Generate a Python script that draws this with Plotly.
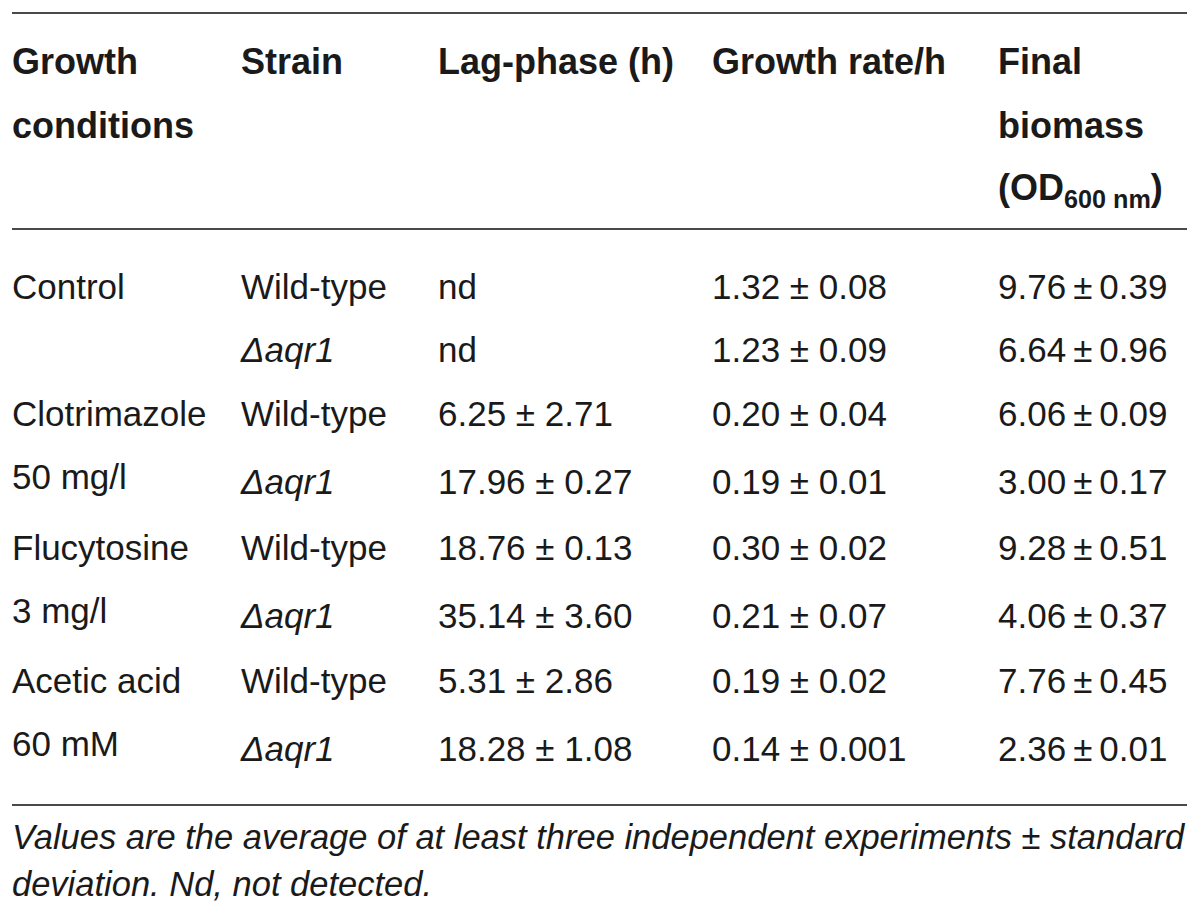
import plotly.graph_objects as go

# ---------------- data ----------------
headers = [
    ["Growth", "conditions"],
    ["Strain"],
    ["Lag-phase (h)"],
    ["Growth rate/h"],
    ["Final", "biomass", "(OD<sub>600 nm</sub>)"],
]
conditions = ["Control", "", "Clotrimazole", "50 mg/l", "Flucytosine", "3 mg/l", "Acetic acid", "60 mM"]
strains = ["Wild-type", "Δaqr1", "Wild-type", "Δaqr1", "Wild-type", "Δaqr1", "Wild-type", "Δaqr1"]
lag_mean = [None, None, 6.25, 17.96, 18.76, 35.14, 5.31, 18.28]
lag_sd = [None, None, 2.71, 0.27, 0.13, 3.60, 2.86, 1.08]
rate_mean = [1.32, 1.23, 0.20, 0.19, 0.30, 0.21, 0.19, 0.14]
rate_sd = [0.08, 0.09, 0.04, 0.01, 0.02, 0.07, 0.02, 0.001]
biomass_mean = [9.76, 6.64, 6.06, 3.00, 9.28, 4.06, 7.76, 2.36]
biomass_sd = [0.39, 0.96, 0.09, 0.17, 0.51, 0.37, 0.45, 0.01]
footnote = [
    "Values are the average of at least three independent experiments ± standard",
    "deviation. Nd, not detected.",
]

# ---------------- layout constants ----------------
W, H = 1200, 919
PAGE = 8  # default page margin of the html body
col_x = [12, 241, 438, 712, 998]
header_y = [65, 129, 191]
row_y = [290, 353, 417, 485, 551, 619, 684, 752]
sub_shift = 5
rule_y = [13, 229, 805]
foot_y = [840, 887]
FS_H = 36
FS = 35
FS_F = 34.5
TXT = "#1a1a1a"
FONT = "Liberation Sans, Arial, sans-serif"


def fmt(v):
    if v is None:
        return None
    return f"{v:.3f}" if 0 < v < 0.01 else f"{v:.2f}"


def pm(m, s, sep=" ± "):
    if m is None:
        return "nd"
    return f"{fmt(m)}{sep}{fmt(s)}"


def strain_txt(s):
    return f"<i>{s}</i>" if s.startswith("Δ") else s


fig = go.Figure()

# header
hx, hy, ht = [], [], []
for ci, lines in enumerate(headers):
    for li, t in enumerate(lines):
        hx.append(col_x[ci])
        hy.append(header_y[li])
        ht.append(f"<b>{t}</b>")
fig.add_trace(go.Scatter(x=hx, y=hy, text=ht, mode="text", textposition="middle right",
                         textfont=dict(size=FS_H, color=TXT, family=FONT), hoverinfo="skip"))

# body
bx, by, bt = [], [], []
for r in range(len(strains)):
    c = conditions[r]
    if c:
        is_sub = c[0].isdigit()
        bx.append(col_x[0]); by.append(row_y[r] - (sub_shift if is_sub else 0)); bt.append(c)
    cells = [strain_txt(strains[r]), pm(lag_mean[r], lag_sd[r]),
             pm(rate_mean[r], rate_sd[r]), pm(biomass_mean[r], biomass_sd[r], "\u2009±\u2009")]
    for ci, t in enumerate(cells, start=1):
        bx.append(col_x[ci]); by.append(row_y[r]); bt.append(t)
fig.add_trace(go.Scatter(x=bx, y=by, text=bt, mode="text", textposition="middle right",
                         textfont=dict(size=FS, color=TXT, family=FONT), hoverinfo="skip"))

# footnote
fig.add_trace(go.Scatter(x=[col_x[0]] * len(footnote), y=foot_y,
                         text=[f"<i>{t}</i>" for t in footnote], mode="text",
                         textposition="middle right",
                         textfont=dict(size=FS_F, color=TXT, family=FONT), hoverinfo="skip"))

shapes = [dict(type="line", xref="x", yref="y", x0=12, x1=1187, y0=y, y1=y,
               line=dict(color="#4a4a4a", width=2)) for y in rule_y]

fig.update_layout(
    width=W, height=H, margin=dict(l=0, r=0, t=0, b=0),
    paper_bgcolor="white", plot_bgcolor="white", showlegend=False,
    xaxis=dict(range=[PAGE, W + PAGE], visible=False, fixedrange=True),
    yaxis=dict(range=[H + PAGE, PAGE], visible=False, fixedrange=True),
    shapes=shapes,
)
fig.write_html("out.html")
